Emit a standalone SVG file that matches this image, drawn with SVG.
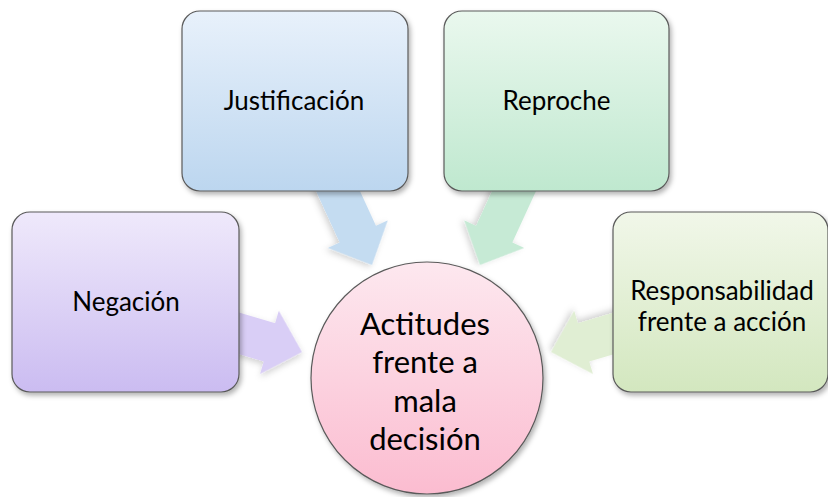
<svg xmlns="http://www.w3.org/2000/svg" width="828" height="497" viewBox="0 0 828 497">
<defs>
<linearGradient id="gNeg" x1="0" y1="0" x2="0" y2="1"><stop offset="0" stop-color="#efe9fb"/><stop offset="1" stop-color="#cbbcf1"/></linearGradient>
<linearGradient id="gJus" x1="0" y1="0" x2="0" y2="1"><stop offset="0" stop-color="#e8f1fb"/><stop offset="1" stop-color="#bcd6ef"/></linearGradient>
<linearGradient id="gRep" x1="0" y1="0" x2="0" y2="1"><stop offset="0" stop-color="#eaf8ee"/><stop offset="1" stop-color="#bfe8cf"/></linearGradient>
<linearGradient id="gRes" x1="0" y1="0" x2="0" y2="1"><stop offset="0" stop-color="#f1f7e9"/><stop offset="1" stop-color="#d3e7bf"/></linearGradient>
<linearGradient id="gCir" x1="0" y1="0" x2="0" y2="1"><stop offset="0" stop-color="#fde8ef"/><stop offset="1" stop-color="#fbbcd0"/></linearGradient>
<filter id="sh" x="-10%" y="-10%" width="125%" height="125%"><feDropShadow dx="2" dy="3" stdDeviation="2.5" flood-color="#000" flood-opacity="0.3"/></filter>
<filter id="sha" x="-20%" y="-20%" width="150%" height="150%"><feDropShadow dx="1" dy="3" stdDeviation="3" flood-color="#000" flood-opacity="0.18"/></filter>
<path id="arr" d="M0,0 L-34,-33 L-34,-20 L-95,-20 L-95,20 L-34,20 L-34,33 Z"/>
</defs>
<style>
.box{stroke:#5a5a5a;stroke-width:1.2;filter:url(#sh)}
.t{font-family:Lato,"Open Sans","Liberation Sans",sans-serif;font-size:26px;fill:#000;text-anchor:middle}
.tc{font-family:Lato,"Open Sans","Liberation Sans",sans-serif;font-size:31px;fill:#000;text-anchor:middle}
.a{filter:url(#sha)}
</style>
<rect width="828" height="497" fill="#fff"/>
<g id="connectors">
<use href="#arr" class="a" fill="#d9cef6" transform="translate(302,352) rotate(16.5)"/>
<use href="#arr" class="a" fill="#c4dcf1" transform="translate(372,265) rotate(65.3)"/>
<use href="#arr" class="a" fill="#c6ead5" transform="translate(480,265) rotate(114.7)"/>
<use href="#arr" class="a" fill="#e0eed3" transform="translate(551,352) rotate(163.5)"/>
</g>
<g id="negacion">
<rect class="box" x="12" y="212" width="227" height="180" rx="18" fill="url(#gNeg)"/>
<text class="t" x="126" y="311">Negación</text>
</g>
<g id="justificacion">
<rect class="box" x="182" y="11" width="226" height="180" rx="18" fill="url(#gJus)"/>
<text class="t" x="294" y="110">Justificación</text>
</g>
<g id="reproche">
<rect class="box" x="444" y="11" width="225" height="180" rx="18" fill="url(#gRep)"/>
<text class="t" x="556.5" y="110">Reproche</text>
</g>
<g id="responsabilidad">
<rect class="box" x="613" y="212" width="215" height="180" rx="18" fill="url(#gRes)"/>
<text class="t" x="722" y="300">Responsabilidad</text>
<text class="t" x="722" y="331">frente a acción</text>
</g>
<g id="actitudes">
<circle class="box" cx="427" cy="378" r="116" fill="url(#gCir)"/>
<text class="tc" x="425" y="335">Actitudes</text>
<text class="tc" x="425" y="373">frente a</text>
<text class="tc" x="425" y="412">mala</text>
<text class="tc" x="425" y="450">decisión</text>
</g>
</svg>
